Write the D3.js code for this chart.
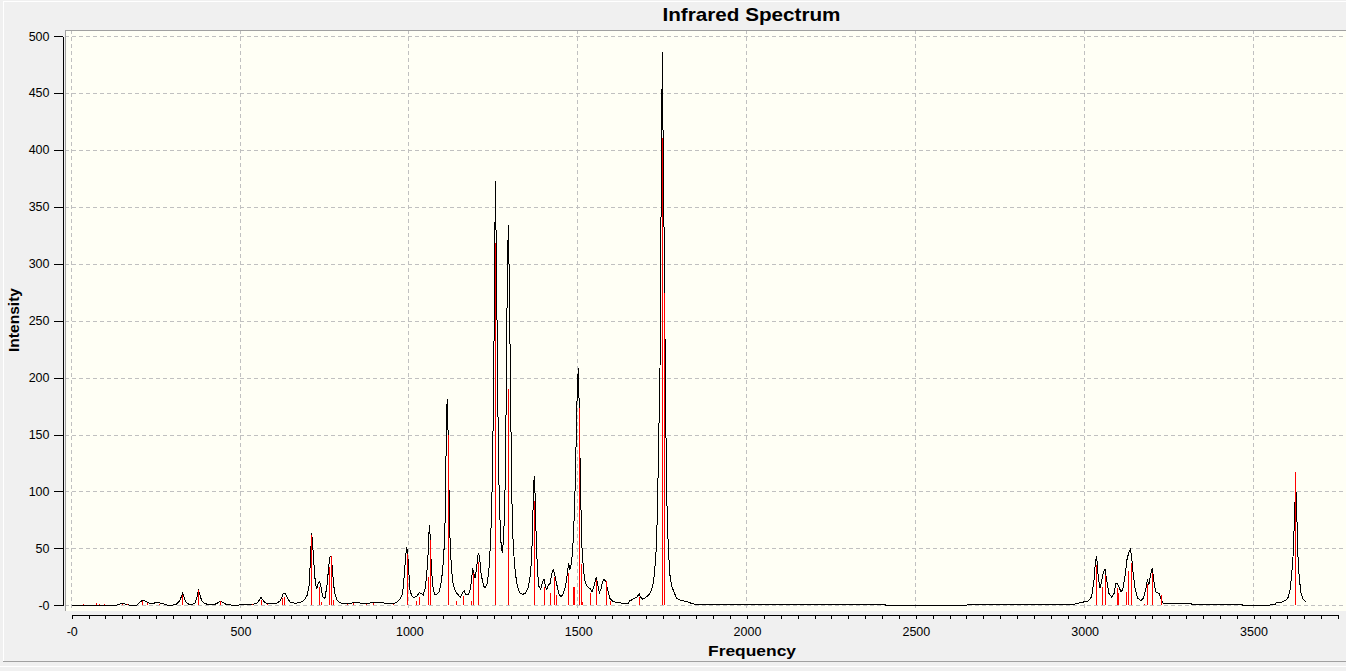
<!DOCTYPE html>
<html>
<head>
<meta charset="utf-8">
<style>
  html, body { margin: 0; padding: 0; background: #f0f0f0; overflow: hidden; }
  svg { display: block; }
  text { font-family: "Liberation Sans", Arial, sans-serif; }
</style>
</head>
<body>
<svg id="chart" width="1346" height="671"></svg>
<script src="https://cdn.jsdelivr.net/npm/d3@7"></script>
<script>
// Computed frequencies (cm-1) and intensities, red sticks
const sticks = [
  [34, 1], [71, 2], [80, 1], [95, 1], [148, 1.5], [163, 1], [207, 4], [222, 2], [260, 1],
  [328, 9], [375, 13], [439, 4], [535, 1], [561, 5], [578, 1], [624, 6], [630, 7],
  [710, 62], [733, 16], [738, 3], [762, 34], [767, 43], [773, 5], [814, 1], [834, 2],
  [873, 1], [893, 2], [952, 1], [992, 45], [1021, 4], [1029, 7], [1056, 25], [1060, 57],
  [1113, 150], [1139, 4], [1160, 8], [1184, 4], [1189, 28], [1204, 38], [1254, 318],
  [1293, 190], [1370, 92], [1399, 16], [1417, 11], [1429, 25], [1435, 9], [1470, 28],
  [1485, 16], [1488, 16], [1501, 173], [1509, 36], [1512, 3], [1536, 11], [1553, 22],
  [1581, 21], [1593, 4], [1681, 7], [1749, 410], [1754, 274],
  [3033, 35], [3052, 16], [3061, 27], [3095, 15], [3100, 11], [3123, 12], [3129, 30],
  [3136, 37], [3176, 1], [3185, 19], [3200, 28], [3225, 9], [3624, 117]
];

// Broadened spectrum (black curve)
const spectrum = [
  [0, 0], [133, 0], [138, 0.6], [148, 1.8], [158, 1.2], [168, 0.3], [178, 0], [192, 0],
  [197, 1.2], [204, 3.2], [210, 4.4], [217, 3.8], [224, 2.6], [232, 1.8], [242, 1.2],
  [247, 2.3], [257, 2.3], [269, 1.5], [281, 0.3], [296, 0], [311, 1.2], [319, 3.8],
  [324, 7], [328, 10.5], [332, 8.2], [337, 3.5], [345, 1.2], [355, 0.6], [365, 1.8],
  [371, 7], [375, 13.5], [379, 10.5], [384, 4.7], [392, 1.8], [405, 0.6], [420, 0.3],
  [431, 1.8], [439, 3.8], [447, 2.6], [459, 0.6], [479, 0], [518, 0.6], [538, 0.9],
  [551, 2.3], [556, 4.7], [561, 7], [566, 4.7], [573, 2.3], [587, 1.2], [607, 1.8],
  [617, 3.8], [622, 7], [627, 10.5], [633, 10.5], [639, 6.1], [647, 2.6], [661, 1.8],
  [676, 2.3], [688, 4.4], [698, 9.1], [704, 19.3], [708, 48.6], [711, 63.2], [714, 51.5],
  [718, 34], [722, 17.9], [726, 14.9], [730, 19.3], [734, 20.8], [738, 16.4], [743, 7.6],
  [750, 6.1], [757, 19.3], [761, 34], [765, 42.7], [769, 42.7], [773, 28.1], [778, 12],
  [785, 4.7], [795, 2.3], [809, 1.2], [824, 1.2], [834, 2.6], [849, 2.3], [864, 1.5],
  [879, 1.5], [893, 2.9], [913, 2.3], [933, 1.8], [948, 1.5],
  [962, 2.3], [972, 5.3], [980, 10.5], [985, 26.6], [989, 42.7], [992, 51.5], [995, 45.7],
  [998, 31], [1002, 13.5], [1007, 8.2], [1014, 6.7], [1022, 8.2], [1030, 11.1], [1035, 10.5],
  [1041, 9.1], [1047, 14.9], [1051, 25.2], [1055, 42.7], [1058, 63.2], [1060, 70.5],
  [1062, 57.4], [1065, 34], [1069, 17.9], [1074, 9.7], [1081, 9.7], [1088, 12], [1095, 20.8],
  [1101, 39.8], [1105, 61.8], [1108, 113], [1109.5, 161], [1112, 181], [1115, 148],
  [1118, 91], [1121, 51.5], [1125, 31], [1130, 17.9], [1137, 12], [1145, 9.1], [1151, 7],
  [1157, 10.5], [1162, 12.9], [1168, 9.1], [1173, 9.1], [1179, 12], [1184, 20.8],
  [1187, 32.5], [1191, 28.1], [1195, 23.7], [1199, 32.5], [1204, 45.7], [1208, 42.7],
  [1211, 31], [1215, 23.7], [1220, 17], [1225, 15.5], [1231, 19.3], [1237, 35.4],
  [1242, 69.1], [1246, 113], [1250, 204], [1253, 318], [1255, 373], [1257, 321],
  [1261, 212], [1264, 122], [1268, 78], [1272, 51.5], [1276, 45.7], [1280, 66.2],
  [1284, 108.6], [1287, 186], [1290, 287], [1293, 334], [1296, 286], [1300, 180],
  [1303, 103], [1306, 63.2], [1310, 42.7], [1314, 28.1], [1320, 16.4], [1328, 10.5],
  [1336, 9.7], [1343, 10.5], [1351, 14.9], [1357, 23.7], [1362, 39.8], [1365, 69.1],
  [1368, 104], [1370, 113.6], [1373, 92.5], [1376, 54.4], [1380, 28.1], [1384, 16.4],
  [1389, 14.1], [1395, 20.8], [1399, 22.8], [1403, 16.4], [1407, 14.1], [1412, 17.9],
  [1417, 19.3], [1421, 26.6], [1426, 31.6], [1430, 28.1], [1434, 22.2], [1439, 14.9],
  [1444, 9.1], [1450, 7.6], [1456, 10.5], [1462, 16.4], [1466, 23.7], [1469, 31],
  [1472, 36.9], [1475, 31], [1478, 34], [1482, 42.7], [1486, 60.3], [1490, 92.5],
  [1494, 145], [1497.5, 192], [1500.5, 208], [1503, 174.5], [1507, 101], [1511, 51.5],
  [1515, 34], [1519, 22.2], [1525, 17], [1531, 15.5], [1537, 14.1], [1541, 12],
  [1545, 14.9], [1550, 20.8], [1554, 24.6], [1558, 17.9], [1563, 11.1], [1568, 14.9],
  [1572, 20.8], [1577, 22.8], [1582, 20.8], [1587, 14.1], [1594, 6.1], [1604, 3.2],
  [1619, 2.3], [1634, 1.8], [1649, 1.8],
  [1653, 3.9], [1663, 5.5], [1673, 7.1], [1678, 8.7], [1681, 9.7], [1685, 7.1], [1691, 5.5],
  [1698, 6.4], [1708, 8.7], [1715, 11.9], [1720.5, 16.8], [1725.5, 26.4], [1730.4, 45.7],
  [1734.4, 78], [1737.3, 126], [1740.3, 175], [1742.3, 207], [1743.3, 258], [1745.2, 336],
  [1747.2, 416], [1749.2, 486], [1751.1, 420], [1754.1, 336], [1756.1, 271], [1758.1, 200],
  [1760, 150], [1763, 88], [1767, 49], [1772, 26], [1777, 17], [1782, 13], [1791.5, 6.1],
  [1801.4, 4.7], [1821, 3.2], [1841, 1.2], [1846, 0.9], [2408, 0.9], [2410, 0],
  [2966, 0.6], [2987, 2.3], [3011, 3.8], [3020.5, 7.6], [3027.5, 22], [3031.4, 37],
  [3035.4, 43], [3040.3, 25], [3045.2, 15], [3050.2, 21], [3055.1, 29], [3060, 32],
  [3065, 22], [3072, 10.5], [3080, 7], [3086.7, 10], [3092.6, 19.5], [3096.6, 19],
  [3101.5, 16], [3107.4, 12], [3112.4, 13.5], [3119.3, 25], [3125.2, 40], [3131.1, 47],
  [3135.1, 49], [3139, 43], [3144, 27], [3150, 13.5], [3157, 6.4], [3166, 4], [3174, 6.4],
  [3180.5, 13.5], [3185.4, 22], [3190.3, 18], [3195.3, 27], [3200.2, 33], [3205.1, 21],
  [3210, 12], [3215, 11], [3221, 10], [3227, 4.7], [3233, 1.8], [3315, 1.8], [3316, 0.9],
  [3466, 0.9], [3467, 0], [3549, 0], [3550, 0.9], [3565.5, 0.9], [3566, 2], [3583, 2.6],
  [3596, 4.4], [3603, 7.3], [3608, 13.2], [3613, 26.3], [3618, 46.8], [3622, 83.4],
  [3625, 106.3], [3628, 83.4], [3631, 46.8], [3635, 26.3], [3640, 11.7], [3645.5, 5.9],
  [3654.5, 2.9]
];

const xTicks = d3.range(0, 3751, 50);
const xLabels = d3.range(0, 3501, 500);
const yTicks = d3.range(0, 501, 50);

const W = 1346, H = 671;
const plot = { left: 65, top: 30, right: 1346, bottom: 611 };

const xScale = d3.scaleLinear().domain([0, 3500]).range([71.7, 1253.5]);
const yScale = d3.scaleLinear().domain([0, 500]).range([605.3, 36]);

const svg = d3.select("#chart");

// window frame lines
svg.append("line").attr("x1", 3).attr("x2", W).attr("y1", 1.5).attr("y2", 1.5).attr("stroke", "#fff");
svg.append("line").attr("x1", 3.5).attr("x2", 3.5).attr("y1", 2).attr("y2", 661).attr("stroke", "#fff");
svg.append("line").attr("x1", 3).attr("x2", W).attr("y1", 661.5).attr("y2", 661.5).attr("stroke", "#a0a0a0");
svg.append("line").attr("x1", 0).attr("x2", W).attr("y1", 666.5).attr("y2", 666.5).attr("stroke", "#fff");

// plot background
svg.append("rect")
  .attr("x", plot.left).attr("y", plot.top)
  .attr("width", plot.right - plot.left).attr("height", plot.bottom - plot.top)
  .attr("fill", "#fffff5");

svg.append("clipPath").attr("id", "clip")
  .append("rect")
  .attr("x", plot.left).attr("y", plot.top)
  .attr("width", plot.right - plot.left).attr("height", plot.bottom - plot.top);

// grid
const grid = svg.append("g").attr("stroke", "#c0c0c0").attr("stroke-dasharray", "4,3").attr("shape-rendering", "crispEdges");
grid.selectAll(".hg").data(yTicks).join("line")
  .attr("x1", plot.left).attr("x2", plot.right)
  .attr("y1", d => Math.round(yScale(d)) + 0.5).attr("y2", d => Math.round(yScale(d)) + 0.5);
grid.selectAll(".vg").data(xLabels).join("line")
  .attr("y1", plot.top).attr("y2", plot.bottom)
  .attr("x1", d => Math.round(xScale(d)) - 0.5).attr("x2", d => Math.round(xScale(d)) - 0.5);

// plot border (top, left)
svg.append("line").attr("x1", plot.left).attr("x2", plot.right).attr("y1", plot.top + 0.5).attr("y2", plot.top + 0.5).attr("stroke", "#a0a0a0");
svg.append("line").attr("x1", plot.left + 0.5).attr("x2", plot.left + 0.5).attr("y1", plot.top).attr("y2", plot.bottom).attr("stroke", "#a0a0a0");

const marks = svg.append("g").attr("clip-path", "url(#clip)");

// black curve
const line = d3.line().x(d => xScale(d[0])).y(d => yScale(d[1]));
marks.append("path")
  .datum(spectrum)
  .attr("d", line)
  .attr("fill", "none")
  .attr("stroke", "#000")
  .attr("stroke-width", 1)
  .attr("shape-rendering", "crispEdges");

// red sticks
marks.selectAll(".stick").data(sticks).join("line")
  .attr("class", "stick")
  .attr("x1", d => Math.round(xScale(d[0])) + 0.5)
  .attr("x2", d => Math.round(xScale(d[0])) + 0.5)
  .attr("y1", yScale(0))
  .attr("y2", d => yScale(d[1]))
  .attr("stroke", "#ff0000")
  .attr("shape-rendering", "crispEdges");

// axes
const xAxisScale = xScale.copy().domain([0, 3750]).range([xScale(0), xScale(3750)]);
const xAxis = d3.axisBottom(xAxisScale)
  .tickValues(xTicks)
  .tickSizeInner(4).tickSizeOuter(0).tickPadding(9)
  .tickFormat(d => d % 500 === 0 && d <= 3500 ? (d === 0 ? "-0" : String(d)) : "");
svg.append("g")
  .attr("transform", "translate(0,614.5)")
  .call(xAxis)
  .call(g => g.selectAll("text").attr("font-size", 12.5).attr("font-family", "Liberation Sans, Arial, sans-serif").attr("fill", "#000"))
  .call(g => g.selectAll("line,path").attr("stroke", "#000").attr("shape-rendering", "crispEdges"));

const yAxis = d3.axisLeft(yScale)
  .tickValues(yTicks)
  .tickSizeInner(9).tickSizeOuter(0).tickPadding(4)
  .tickFormat(d => d === 0 ? "-0" : String(d));
svg.append("g")
  .attr("transform", "translate(62.5,0)")
  .call(yAxis)
  .call(g => g.selectAll("text").attr("font-size", 12.5).attr("font-family", "Liberation Sans, Arial, sans-serif").attr("fill", "#000"))
  .call(g => g.selectAll("line,path").attr("stroke", "#000").attr("shape-rendering", "crispEdges"));

// titles
svg.append("text")
  .attr("x", 751.5).attr("y", 20.5)
  .attr("text-anchor", "middle")
  .attr("font-size", 18.5).attr("font-weight", "bold")
  .attr("textLength", 178).attr("lengthAdjust", "spacingAndGlyphs")
  .text("Infrared Spectrum");

svg.append("text")
  .attr("x", 752).attr("y", 656)
  .attr("text-anchor", "middle")
  .attr("font-size", 15).attr("font-weight", "bold")
  .attr("textLength", 88).attr("lengthAdjust", "spacingAndGlyphs")
  .text("Frequency");

svg.append("text")
  .attr("transform", "translate(18.5,320) rotate(-90)")
  .attr("text-anchor", "middle")
  .attr("font-size", 15).attr("font-weight", "bold")
  .attr("textLength", 64).attr("lengthAdjust", "spacingAndGlyphs")
  .text("Intensity");
</script>
</body>
</html>
